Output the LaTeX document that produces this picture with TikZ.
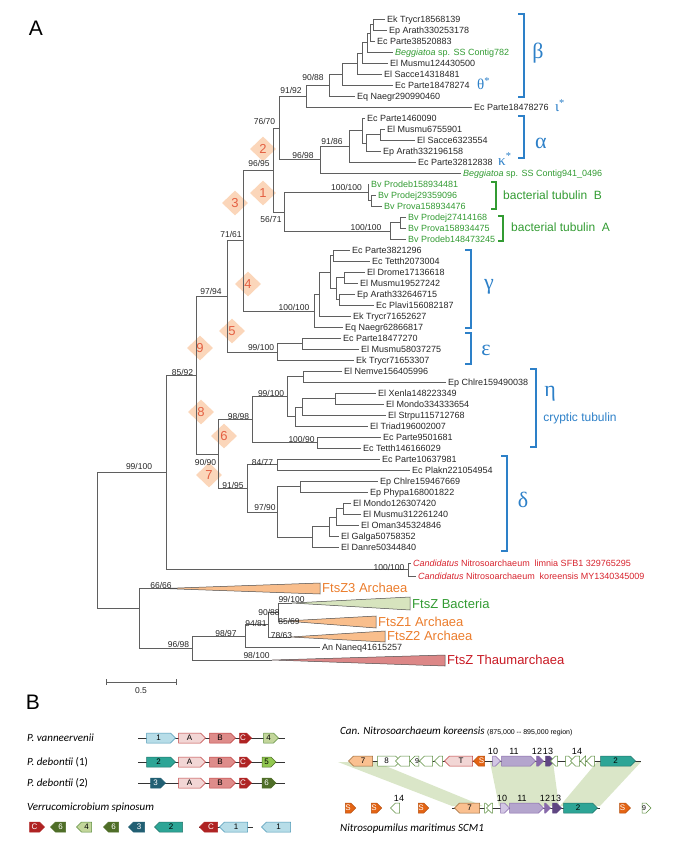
\documentclass[tikz,border=0pt]{standalone}
\usepackage{fontspec}
\setmainfont{Liberation Sans}
\newfontfamily\grkfont{Liberation Serif}
\newfontfamily\calfont{Carlito}
\usetikzlibrary{shapes.geometric, shapes.symbols}
\definecolor{treegray}{RGB}{95, 95, 95}
\definecolor{cladeblue}{RGB}{45, 128, 200}
\definecolor{bacgreen}{RGB}{50, 155, 50}
\definecolor{candred}{RGB}{215, 35, 45}
\definecolor{ftsorange}{RGB}{235, 125, 45}
\definecolor{ftsfill}{RGB}{249, 190, 140}
\definecolor{ftsbacfill}{RGB}{215, 228, 190}
\definecolor{thaumfill}{RGB}{220, 135, 135}
\definecolor{thaumtext}{RGB}{200, 25, 35}
\definecolor{dmdfill}{RGB}{251, 214, 186}
\definecolor{dmdtext}{RGB}{228, 96, 66}
\definecolor{lblue}{RGB}{183, 221, 232}
\definecolor{lblueline}{RGB}{75, 150, 180}
\definecolor{pinkA}{RGB}{242, 214, 213}
\definecolor{pinkB}{RGB}{222, 140, 138}
\definecolor{redline}{RGB}{190, 60, 60}
\definecolor{darkred}{RGB}{175, 35, 35}
\definecolor{lgreen}{RGB}{195, 214, 155}
\definecolor{mgreen}{RGB}{146, 200, 80}
\definecolor{dgreen}{RGB}{79, 110, 40}
\definecolor{geneline}{RGB}{90, 140, 60}
\definecolor{teal}{RGB}{45, 165, 150}
\definecolor{dteal}{RGB}{33, 95, 115}
\definecolor{peach}{RGB}{250, 192, 144}
\definecolor{sorange}{RGB}{228, 100, 20}
\definecolor{pur1}{RGB}{210, 198, 228}
\definecolor{pur2}{RGB}{180, 165, 205}
\definecolor{pur3}{RGB}{135, 105, 170}
\definecolor{pur4}{RGB}{95, 70, 130}
\definecolor{bandgreen}{RGB}{218, 230, 200}
\tikzset{
  br/.style      = {draw=treegray, line width=0.6pt},
  leaf/.style    = {anchor=west, inner xsep=2pt, inner ysep=0.5pt, text height=6.4pt, text depth=0pt, font=\fontsize{9}{10}\selectfont, text=black!85},
  bs/.style      = {inner sep=0pt, font=\fontsize{8.5}{9}\selectfont, text=black!85},
  clade/.style   = {draw=cladeblue, line width=1.1pt},
  bclade/.style  = {draw=bacgreen, line width=1.1pt},
  greek/.style   = {inner sep=0pt, text=cladeblue, font=\grkfont\fontsize{22}{22}\selectfont},
  star/.style    = {anchor=west, inner sep=0pt, text=cladeblue, font=\grkfont\fontsize{15}{15}\selectfont},
  dmd/.style     = {diamond, fill=dmdfill, minimum width=26pt, minimum height=25pt, inner sep=0pt, text=dmdtext, font=\fontsize{13}{13}\selectfont},
  tri/.style     = {draw=black!70, line width=0.5pt},
  ftslab/.style  = {anchor=west, inner sep=1pt, font=\fontsize{13}{14}\selectfont},
  gene/.style    = {signal, signal to=east, draw, line width=0.5pt, minimum height=10pt, inner sep=0pt, font=\fontsize{8}{8}\selectfont},
  bb/.style      = {draw=black!80, line width=0.6pt},
}

\begin{document}
\begin{tikzpicture}[
    x=1pt, y=-1pt,
    panel/.style={inner sep=0pt, font=\fontsize{21}{21}\selectfont},
    sp/.style={anchor=west, inner sep=0pt, font=\calfont\fontsize{11}{12}\selectfont},
    gblue/.style={gene, fill=lblue, draw=lblueline},
    gA/.style={gene, fill=pinkA, draw=redline},
    gB/.style={gene, fill=pinkB, draw=redline},
    gC/.style={gene, fill=darkred, draw=darkred, text=white},
    g4/.style={gene, fill=lgreen, draw=geneline},
    g5/.style={gene, fill=mgreen, draw=dgreen},
    g6/.style={gene, fill=dgreen, draw=dgreen, text=white},
    g2/.style={gene, fill=teal, draw=teal!70!black},
    g3/.style={gene, fill=dteal, draw=dteal, text=white},
    g7/.style={gene, fill=peach, draw=brown!80!black},
    gw/.style={gene, fill=white, draw=geneline},
    gS/.style={gene, fill=sorange, draw=sorange!80!black, text=white},
    gp1/.style={gene, fill=pur1, draw=pur3},
    gp2/.style={gene, fill=pur2, draw=pur3},
    gp3/.style={gene, fill=pur3, draw=pur3},
    gp4/.style={gene, fill=pur4, draw=pur4},
    gnum/.style={inner sep=0pt, font=\fontsize{9}{9}\selectfont},
]
\useasboundingbox (0,0) rectangle (685,844);

% ================= Panel A =================
\node (labA) [panel] at (36,28) {A};

% marker diamonds
\node (d1) [dmd] at (263,193) {1};
\node (d2) [dmd] at (263,149) {2};
\node (d3) [dmd] at (235,203) {3};
\node (d4) [dmd] at (248,284) {4};
\node (d5) [dmd] at (232,331) {5};
\node (d6) [dmd] at (224,436) {6};
\node (d7) [dmd] at (209,475) {7};
\node (d8) [dmd] at (201,412) {8};
\node (d9) [dmd] at (200,348) {9};

% ---- leaves: beta ----
\node (l1)  [leaf] at (385,19)  {Ek Trycr18568139};
\node (l2)  [leaf] at (387,30)  {Ep Arath330253178};
\node (l3)  [leaf] at (375,41)  {Ec Parte38520883};
\node (l4)  [leaf, text=bacgreen] at (393,52) {\textit{Beggiatoa} sp. SS Contig782};
\node (l5)  [leaf] at (388,63)  {El Musmu124430500};
\node (l6)  [leaf] at (382,74)  {El Sacce14318481};
\node (l7)  [leaf] at (393,85)  {Ec Parte18478274};
\node (l8)  [leaf] at (355,96)  {Eq Naegr290990460};
\node (l9)  [leaf] at (472,107) {Ec Parte18478276};
% ---- leaves: alpha ----
\node (l10) [leaf] at (365,118) {Ec Parte1460090};
\node (l11) [leaf] at (385,129) {El Musmu6755901};
\node (l12) [leaf] at (415,140) {El Sacce6323554};
\node (l13) [leaf] at (381,151) {Ep Arath332196158};
\node (l14) [leaf] at (416,162) {Ec Parte32812838};
\node (l15) [leaf, text=bacgreen] at (461,173) {\textit{Beggiatoa} sp. SS Contig941\_0496};
% ---- leaves: bacterial tubulins ----
\node (l16) [leaf, text=bacgreen] at (369,184) {Bv Prodeb158934481};
\node (l17) [leaf, text=bacgreen] at (376,195) {Bv Prodej29359096};
\node (l18) [leaf, text=bacgreen] at (382,206) {Bv Prova158934476};
\node (l19) [leaf, text=bacgreen] at (406,217) {Bv Prodej27414168};
\node (l20) [leaf, text=bacgreen] at (406,228) {Bv Prova158934475};
\node (l21) [leaf, text=bacgreen] at (406,239) {Bv Prodeb148473245};
% ---- leaves: gamma ----
\node (l22) [leaf] at (350,250) {Ec Parte3821296};
\node (l23) [leaf] at (370,261) {Ec Tetth2073004};
\node (l24) [leaf] at (365,272) {El Drome17136618};
\node (l25) [leaf] at (358,283) {El Musmu19527242};
\node (l26) [leaf] at (355,294) {Ep Arath332646715};
\node (l27) [leaf] at (374,305) {Ec Plavi156082187};
\node (l28) [leaf] at (351,316) {Ek Trycr71652627};
\node (l29) [leaf] at (343,327) {Eq Naegr62866817};
% ---- leaves: epsilon ----
\node (l30) [leaf] at (341,338) {Ec Parte18477270};
\node (l31) [leaf] at (359,349) {El Musmu58037275};
\node (l32) [leaf] at (354,360) {Ek Trycr71653307};
% ---- leaves: eta ----
\node (l33) [leaf] at (342,371) {El Nemve156405996};
\node (l34) [leaf] at (446,382) {Ep Chlre159490038};
\node (l35) [leaf] at (376,393) {El Xenla148223349};
\node (l36) [leaf] at (384,404) {El Mondo334333654};
\node (l37) [leaf] at (386,415) {El Strpu115712768};
\node (l38) [leaf] at (368,426) {El Triad196002007};
\node (l39) [leaf] at (381,437) {Ec Parte9501681};
\node (l40) [leaf] at (361,448) {Ec Tetth146166029};
% ---- leaves: delta ----
\node (l41) [leaf] at (380,459) {Ec Parte10637981};
\node (l42) [leaf] at (410,470) {Ec Plakn221054954};
\node (l43) [leaf] at (378,481) {Ep Chlre159467669};
\node (l44) [leaf] at (368,492) {Ep Phypa168001822};
\node (l45) [leaf] at (351,503) {El Mondo126307420};
\node (l46) [leaf] at (361,514) {El Musmu312261240};
\node (l47) [leaf] at (359,525) {El Oman345324846};
\node (l48) [leaf] at (339,536) {El Galga50758352};
\node (l49) [leaf] at (339,547) {El Danre50344840};
% ---- leaves: Candidatus, FtsZ ----
\node (l50) [leaf, text=candred] at (411,563) {\textit{Candidatus} Nitrosoarchaeum\ \ limnia SFB1 329765295};
\node (l51) [leaf, text=candred] at (416,576) {\textit{Candidatus} Nitrosoarchaeum\ \ koreensis MY1340345009};
\node (l52) [leaf] at (320,647) {An Naneq41615257};

% ---- internal nodes ----
\coordinate (nI)   at (373,24.5);
\coordinate (nH)   at (370,33);
\coordinate (nG)   at (367,42.5);
\coordinate (nF)   at (362,53);
\coordinate (nE)   at (357,63.5);
\coordinate (nD)   at (342,74);
\coordinate (nC)   at (329,85);
\coordinate (nB)   at (306,96);
\coordinate (na1)  at (380,134.5);
\coordinate (na2)  at (366,143);
\coordinate (na3)  at (362,130.5);
\coordinate (na4)  at (349,146);
\coordinate (na5)  at (320,159.5);
\coordinate (nA)   at (279,128);
\coordinate (ntB2) at (371,200.5);
\coordinate (ntB)  at (368,192.5);
\coordinate (ntA2) at (400,222.5);
\coordinate (ntA)  at (390,231);
\coordinate (nbt)  at (284,212.5);
\coordinate (n96)  at (273,170.5);
\coordinate (np1)  at (333,255.5);
\coordinate (np2)  at (344,277.5);
\coordinate (np3)  at (339,299.5);
\coordinate (np4)  at (336,288.5);
\coordinate (np5)  at (330,272);
\coordinate (np6)  at (319,294);
\coordinate (np7)  at (314,311);
\coordinate (n71)  at (243,240.5);
\coordinate (ne1)  at (302,343.5);
\coordinate (ne2)  at (277,352);
\coordinate (n97)  at (227,296);
\coordinate (nh6)  at (303,376.5);
\coordinate (nh7)  at (335,398.5);
\coordinate (nh8)  at (302,407);
\coordinate (nh9)  at (295,416.5);
\coordinate (nh2)  at (287,396.5);
\coordinate (nh3)  at (317,442.5);
\coordinate (nh1)  at (252,419.5);
\coordinate (nd1)  at (277,464.5);
\coordinate (nd3)  at (300,486.5);
\coordinate (nd7)  at (343,508.5);
\coordinate (nd6)  at (336,517);
\coordinate (nd5)  at (329,526.5);
\coordinate (nd4)  at (312,537);
\coordinate (nd2)  at (277,512);
\coordinate (nd0)  at (247,488);
\coordinate (n90)  at (218,454);
\coordinate (n85)  at (196,375);
\coordinate (nCa)  at (408,569.5);
\coordinate (n99)  at (166,472);
\coordinate (nfb)  at (278,612);
\coordinate (n90b) at (268,624.5);
\coordinate (n94)  at (245,636);
\coordinate (n98)  at (192,648);
\coordinate (n66)  at (139,608);
\coordinate (root) at (97,540);
% collapsed clade tips
\coordinate (fz3) at (163,588.5);
\coordinate (fzb) at (292,603);
\coordinate (fz1) at (285,621);
\coordinate (fz2) at (290,637);
\coordinate (fzt) at (272,660);

% ---- branches ----
\draw [br] (nI) |- (l1.west)  (nI) |- (l2.west);
\draw [br] (nH) |- (nI)  (nH) |- (l3.west);
\draw [br] (nG) |- (nH)  (nG) |- (l4.west);
\draw [br] (nF) |- (nG)  (nF) |- (l5.west);
\draw [br] (nE) |- (nF)  (nE) |- (l6.west);
\draw [br] (nD) |- (nE)  (nD) |- (l7.west);
\draw [br] (nC) |- (nD)  (nC) |- (l8.west);
\draw [br] (nB) |- (nC)  (nB) |- (l9.west);
\draw [br] (na1) |- (l11.west)  (na1) |- (l12.west);
\draw [br] (na2) |- (na1)  (na2) |- (l13.west);
\draw [br] (na3) |- (l10.west)  (na3) |- (na2);
\draw [br] (na4) |- (na3)  (na4) |- (l14.west);
\draw [br] (na5) |- (na4)  (na5) |- (l15.west);
\draw [br] (nA) |- (nB)  (nA) |- (na5);
\draw [br] (ntB2) |- (l17.west)  (ntB2) |- (l18.west);
\draw [br] (ntB) |- (l16.west)  (ntB) |- (ntB2);
\draw [br] (ntA2) |- (l19.west)  (ntA2) |- (l20.west);
\draw [br] (ntA) |- (ntA2)  (ntA) |- (l21.west);
\draw [br] (nbt) |- (ntB)  (nbt) |- (ntA);
\draw [br] (n96) |- (nA)  (n96) |- (nbt);
\draw [br] (np1) |- (l22.west)  (np1) |- (l23.west);
\draw [br] (np2) |- (l24.west)  (np2) |- (l25.west);
\draw [br] (np3) |- (l26.west)  (np3) |- (l27.west);
\draw [br] (np4) |- (np2)  (np4) |- (np3);
\draw [br] (np5) |- (np1)  (np5) |- (np4);
\draw [br] (np6) |- (np5)  (np6) |- (l28.west);
\draw [br] (np7) |- (np6)  (np7) |- (l29.west);
\draw [br] (n71) |- (n96)  (n71) |- (np7);
\draw [br] (ne1) |- (l30.west)  (ne1) |- (l31.west);
\draw [br] (ne2) |- (ne1)  (ne2) |- (l32.west);
\draw [br] (n97) |- (n71)  (n97) |- (ne2);
\draw [br] (nh6) |- (l33.west)  (nh6) |- (l34.west);
\draw [br] (nh7) |- (l35.west)  (nh7) |- (l36.west);
\draw [br] (nh8) |- (nh7)  (nh8) |- (l37.west);
\draw [br] (nh9) |- (nh8)  (nh9) |- (l38.west);
\draw [br] (nh2) |- (nh6)  (nh2) |- (nh9);
\draw [br] (nh3) |- (l39.west)  (nh3) |- (l40.west);
\draw [br] (nh1) |- (nh2)  (nh1) |- (nh3);
\draw [br] (nd1) |- (l41.west)  (nd1) |- (l42.west);
\draw [br] (nd3) |- (l43.west)  (nd3) |- (l44.west);
\draw [br] (nd7) |- (l45.west)  (nd7) |- (l46.west);
\draw [br] (nd6) |- (nd7)  (nd6) |- (l47.west);
\draw [br] (nd5) |- (nd6)  (nd5) |- (l48.west);
\draw [br] (nd4) |- (nd5)  (nd4) |- (l49.west);
\draw [br] (nd2) |- (nd3)  (nd2) |- (nd4);
\draw [br] (nd0) |- (nd1)  (nd0) |- (nd2);
\draw [br] (n90) |- (nh1)  (n90) |- (nd0);
\draw [br] (n85) |- (n97)  (n85) |- (n90);
\draw [br] (nCa) |- (l50.west)  (nCa) |- (l51.west);
\draw [br] (n99) |- (n85)  (n99) |- (nCa);
\draw [br] (nfb) |- (fzb)  (nfb) |- (fz1);
\draw [br] (n90b) |- (nfb)  (n90b) |- (fz2);
\draw [br] (n94) |- (n90b)  (n94) |- (l52.west);
\draw [br] (n98) |- (n94)  (n98) |- (fzt);
\draw [br] (n66) |- (fz3)  (n66) |- (n98);
\draw [br] (root) |- (n99)  (root) |- (n66);

% ---- collapsed FtsZ clades ----
\filldraw [tri, fill=ftsfill]    (fz3) -- (320,583) -- (320,594) -- cycle;
\filldraw [tri, fill=ftsbacfill] (fzb) -- (410,597) -- (410,610) -- cycle;
\filldraw [tri, fill=ftsfill]    (fz1) -- (376,616) -- (376,628) -- cycle;
\filldraw [tri, fill=ftsfill]    (fz2) -- (385,631) -- (385,642) -- cycle;
\filldraw [tri, fill=thaumfill]  (fzt) -- (445,655) -- (445,666) -- cycle;
\node (t3) [ftslab, text=ftsorange] at (321,588) {FtsZ3 Archaea};
\node (tb) [ftslab, text=bacgreen]  at (411,604) {FtsZ Bacteria};
\node (t1) [ftslab, text=ftsorange] at (377,622) {FtsZ1 Archaea};
\node (t2) [ftslab, text=ftsorange] at (386,636) {FtsZ2 Archaea};
\node (tt) [ftslab, text=thaumtext] at (446,660) {FtsZ Thaumarchaea};

% ---- bootstrap values ----
\node (b1)  [bs] at (313,77)    {90/88};
\node (b2)  [bs] at (291,90)    {91/92};
\node (b3)  [bs] at (264.5,121) {76/70};
\node (b4)  [bs] at (332,141)   {91/86};
\node (b5)  [bs] at (303,155)   {96/98};
\node (b6)  [bs] at (259,163)   {96/95};
\node (b7)  [bs] at (346.5,187) {100/100};
\node (b8)  [bs] at (271,219)   {56/71};
\node (b9)  [bs] at (366,227)   {100/100};
\node (b10) [bs] at (231,234)   {71/61};
\node (b11) [bs] at (211,291)   {97/94};
\node (b12) [bs] at (294,307)   {100/100};
\node (b13) [bs] at (261,347)   {99/100};
\node (b14) [bs] at (182.5,372) {85/92};
\node (b15) [bs] at (271,393)   {99/100};
\node (b16) [bs] at (238.5,416) {98/98};
\node (b17) [bs] at (301.5,439) {100/90};
\node (b18) [bs] at (205.5,462) {90/90};
\node (b19) [bs] at (262.5,462) {84/77};
\node (b20) [bs] at (233,485)   {91/95};
\node (b21) [bs] at (265,507)   {97/90};
\node (b22) [bs] at (139,466)   {99/100};
\node (b23) [bs] at (389,567)   {100/100};
\node (b24) [bs] at (161,585)   {66/66};
\node (b25) [bs] at (291.5,599) {99/100};
\node (b26) [bs] at (269,612)   {90/88};
\node (b27) [bs] at (256,623)   {94/81};
\node (b28) [bs] at (289,621)   {85/69};
\node (b29) [bs] at (226,633)   {98/97};
\node (b30) [bs] at (281.5,635) {78/63};
\node (b31) [bs] at (178.5,644) {96/98};
\node (b32) [bs] at (256.5,655) {98/100};

% ---- clade brackets ----
\draw [clade] (518,14) -- (524,14) -- (524,97) -- (518,97);
\draw [clade] (518,116) -- (524,116) -- (524,158) -- (518,158);
\draw [bclade] (491,182) -- (496,182) -- (496,209) -- (491,209);
\draw [bclade] (498,216) -- (503,216) -- (503,241) -- (498,241);
\draw [clade] (465,250) -- (471,250) -- (471,328) -- (465,328);
\draw [clade] (465,333) -- (471,333) -- (471,364) -- (465,364);
\draw [clade] (530,369) -- (536,369) -- (536,447) -- (530,447);
\draw [clade] (501,456) -- (507,456) -- (507,551) -- (501,551);
\node (gbeta)  [greek] at (538,53)  {β};
\node (galpha) [greek] at (541,143) {α};
\node (ggamma) [greek] at (489,287) {γ};
\node (geps)   [greek] at (486,350) {ε};
\node (geta)   [greek] at (550,394) {η};
\node (gdelta) [greek] at (523,500) {δ};
\node (gtheta) [star] at (477,84)  {θ\textsuperscript{*}};
\node (giota)  [star] at (555,106) {ι\textsuperscript{*}};
\node (gkappa) [star] at (498,159) {κ\textsuperscript{*}};
\node (cryp) [inner sep=0pt, text=cladeblue, font=\fontsize{12}{12}\selectfont] at (580,418) {cryptic tubulin};
\node (btB)  [inner sep=0pt, text=bacgreen, font=\fontsize{12}{12}\selectfont, anchor=west] at (503,195) {bacterial tubulin\ \ B};
\node (btA)  [inner sep=0pt, text=bacgreen, font=\fontsize{12}{12}\selectfont, anchor=west] at (511,227) {bacterial tubulin\ \ A};

% ---- scale bar ----
\coordinate (sb1) at (106,682);
\coordinate (sb2) at (176,682);
\draw [br] (sb1) -- (sb2);
\draw [br] ([yshift=3pt]sb1) -- ([yshift=-3pt]sb1);
\draw [br] ([yshift=3pt]sb2) -- ([yshift=-3pt]sb2);
\node (sbl) [bs] at (141,691) {0.5};

% ================= Panel B =================
\node (labB) [panel] at (33,702) {B};

% ---- Planctomycetes operons ----
\node (s1) [sp] at (27,738) {\itshape P. vanneervenii};
\node (s2) [sp] at (27,762) {\itshape P. debontii\upshape\ (1)};
\node (s3) [sp] at (27,783) {\itshape P. debontii\upshape\ (2)};
\node (s4) [sp] at (27,808) {\itshape Verrucomicrobium spinosum};

\draw [bb] (138,738) -- (285,738);
\draw [bb] (138,762) -- (285,762);
\draw [bb] (138,783) -- (285,783);
\draw [bb] (199,827) -- (253,827);

\node (r1a) [gblue, minimum width=29pt] at (158.5,738) {1};
\node (r1b) [gA, minimum width=27pt] at (189.5,738) {A};
\node (r1c) [gB, minimum width=26pt] at (220,738) {B};
\node (r1d) [gC, minimum width=12pt] at (243,738) {C};
\node (r1e) [g4, minimum width=15pt] at (268.5,738) {4};

\node (r2a) [g2, minimum width=29pt] at (158.5,762) {2};
\node (r2b) [gA, minimum width=27pt] at (189.5,762) {A};
\node (r2c) [gB, minimum width=26pt] at (220,762) {B};
\node (r2d) [gC, minimum width=12pt] at (243,762) {C};
\node (r2e) [g5, minimum width=14pt] at (266.5,762) {5};

\node (r3a) [g3, minimum width=15pt] at (155.5,783) {3};
\node (r3b) [gA, minimum width=27pt] at (189.5,783) {A};
\node (r3c) [gB, minimum width=26pt] at (220,783) {B};
\node (r3d) [gC, minimum width=12pt] at (243,783) {C};
\node (r3e) [g6, minimum width=14pt] at (266.5,783) {6};

\node (r4a) [gC, minimum width=15pt] at (34.5,827) {C};
\node (r4b) [g6, signal to=west, minimum width=15pt] at (60.5,827) {6};
\node (r4c) [g4, signal to=west, minimum width=15pt] at (86.5,827) {4};
\node (r4d) [g6, signal to=west, minimum width=15pt] at (113.5,827) {6};
\node (r4e) [g3, signal to=west, minimum width=16pt] at (139,827) {3};
\node (r4f) [g2, signal to=west, minimum width=28pt] at (171,827) {2};
\node (r4g) [gC, signal to=west, minimum width=18pt] at (211,827) {C};
\node (r4h) [gblue, signal to=west, minimum width=28pt] at (236,827) {1};
\node (r4i) [gblue, signal to=west, minimum width=29pt] at (278.5,827) {1};

% ---- Thaumarchaeota loci ----
\node (s5) [sp] at (340,731) {\itshape Can. Nitrosoarchaeum koreensis\upshape\ {\fontspec{Liberation Sans}\fontsize{7}{8}\selectfont(875,000 -- 895,000 region)}};
\node (s6) [sp] at (340,829) {\itshape Nitrosopumilus maritimus SCM1};

% synteny bands
\fill [bandgreen] (338,762) -- (376,762) -- (483,806) -- (452,806) -- cycle;
\fill [bandgreen] (490,762) -- (553,762) -- (559,806) -- (499,806) -- cycle;
\fill [bandgreen] (597,762) -- (641,762) -- (600,806) -- (560,806) -- cycle;

\draw [bb] (349,761) -- (641,761);
\draw [bb] (452,808) -- (600,808);

\node (k7)  [g7, signal to=west, minimum width=24pt] at (363,761) {7};
\node (k8)  [gw, minimum width=23pt] at (386.5,761) {8};
\node (ke1) [gw, signal to=west, minimum width=14pt] at (405,761) {};
\node (k9)  [gw, signal to=west, minimum width=8pt, font=\fontsize{7}{7}\selectfont] at (417,761) {9};
\node (ke2) [gw, signal to=west, minimum width=13pt] at (428.5,761) {};
\node (ke3) [gw, signal to=west, minimum width=8pt] at (441,761) {};
\node (kT)  [gA, signal to=west, minimum width=28pt] at (461,761) {T};
\node (kS)  [gS, signal to=west, minimum width=11pt] at (481.5,761) {S};
\node (k10) [gp1, minimum width=8pt] at (494,761) {};
\node (k11) [gp2, minimum width=34pt] at (516,761) {};
\node (k12) [gp3, minimum width=7pt] at (537.5,761) {};
\node (k13) [gp4, minimum width=9pt] at (547.5,761) {};
\node (ke4) [gw, signal to=west, minimum width=7pt] at (556.5,761) {};
\node (ke5) [gw, minimum width=8pt] at (567,761) {};
\node (ke6) [gw, signal to=west, minimum width=9pt] at (577.5,761) {};
\node (ke7) [gw, signal to=west, minimum width=5pt] at (585.5,761) {};
\node (ke8) [gw, signal to=west, minimum width=8pt] at (593,761) {};
\node (k2)  [g2, minimum width=35pt] at (615.5,761) {2};
\node (kn10) [gnum] at (493,751) {10};
\node (kn11) [gnum] at (514,751) {11};
\node (kn12) [gnum] at (537,751) {12};
\node (kn13) [gnum] at (548,751) {13};
\node (kn14) [gnum] at (577,751) {14};

\node (m1)  [gS, minimum width=10pt] at (348,808) {S};
\node (m2)  [gS, minimum width=10pt] at (374,808) {S};
\node (m14) [gw, signal to=west, minimum width=9pt] at (397.5,808) {};
\node (m3)  [gS, minimum width=10pt] at (421,808) {S};
\node (m7)  [g7, signal to=west, minimum width=25pt] at (469.5,808) {7};
\node (me1) [gw, minimum width=6pt] at (485,808) {};
\node (me2) [gw, signal to=west, minimum width=6pt] at (492,808) {};
\node (m10) [gp1, minimum width=9pt] at (502.5,808) {};
\node (m11) [gp2, minimum width=34pt] at (524,808) {};
\node (m12) [gp3, minimum width=6pt] at (545,808) {};
\node (m13) [gp4, minimum width=9pt] at (554.5,808) {};
\node (m2b) [g2, minimum width=34pt] at (578,808) {2};
\node (m4)  [gS, minimum width=11pt] at (622.5,808) {S};
\node (m9)  [gw, minimum width=8pt, font=\fontsize{7}{7}\selectfont] at (644,808) {9};
\node (mn14) [gnum] at (399,798) {14};
\node (mn10) [gnum] at (502,798) {10};
\node (mn11) [gnum] at (522,798) {11};
\node (mn12) [gnum] at (545,798) {12};
\node (mn13) [gnum] at (556,798) {13};

\end{tikzpicture}
\end{document}
